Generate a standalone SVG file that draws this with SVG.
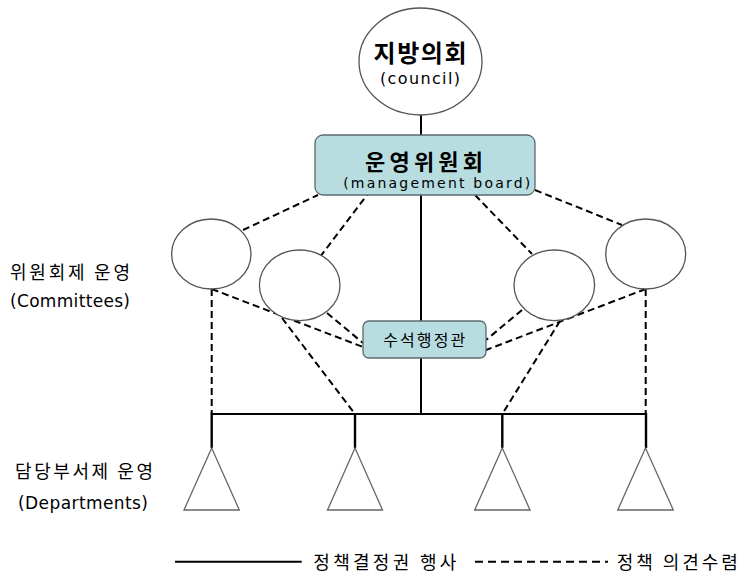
<svg xmlns="http://www.w3.org/2000/svg" width="739" height="573" viewBox="0 0 739 573">
<style>
.bg{fill:#ffffff}
.solid{stroke:#000;stroke-width:2;fill:none}
.stem{stroke:#000;stroke-width:2.4;fill:none}
.dash{stroke:#000;stroke-width:2;fill:none;stroke-dasharray:7,4}
.circ{fill:#fff;stroke:#555;stroke-width:1.3}
.box{fill:#b8dde0;stroke:#5b6b6d;stroke-width:1.3}
.tri{fill:#fff;stroke:#666;stroke-width:1.3}
.ko{font-family:"Noto Sans CJK KR","Noto Sans",sans-serif;fill:#000}
.en{font-family:"DejaVu Sans","Liberation Sans",sans-serif;fill:#000}
</style>
<rect class="bg" x="0" y="0" width="739" height="573"/>
<g id="connectors">
  <line class="solid" x1="421" y1="115" x2="421" y2="135"/>
  <line class="solid" x1="421" y1="195" x2="421" y2="414"/>
  <line class="solid" x1="211.7" y1="414" x2="646" y2="414"/>
  <line class="stem" x1="211.7" y1="413" x2="211.7" y2="448"/>
  <line class="stem" x1="355" y1="413" x2="355" y2="448"/>
  <line class="stem" x1="502.3" y1="413" x2="502.3" y2="448"/>
  <line class="stem" x1="646" y1="413" x2="646" y2="448"/>
  <line class="dash" x1="243" y1="230" x2="318" y2="195"/>
  <line class="dash" x1="320" y1="257" x2="367" y2="195"/>
  <line class="dash" x1="475" y1="195" x2="532" y2="254"/>
  <line class="dash" x1="535" y1="190" x2="622" y2="225"/>
  <line class="dash" x1="211.7" y1="289" x2="363" y2="347"/>
  <line class="dash" x1="327" y1="313" x2="363" y2="343"/>
  <line class="dash" x1="522" y1="310" x2="486" y2="340"/>
  <line class="dash" x1="645.7" y1="289" x2="486" y2="350"/>
  <line class="dash" x1="211.7" y1="289" x2="211.7" y2="414"/>
  <line class="dash" x1="282" y1="318" x2="355" y2="414"/>
  <line class="dash" x1="560" y1="321" x2="502.3" y2="414"/>
  <line class="dash" x1="645.7" y1="289" x2="645.7" y2="414"/>
</g>
<g id="council">
  <ellipse class="circ" cx="420.5" cy="61.5" rx="61.5" ry="53.5"/>
  <text class="ko" x="420" y="62.4" font-size="24" font-weight="bold" text-anchor="middle" textLength="93">지방의회</text>
  <text class="en" x="420" y="83.7" font-size="16" text-anchor="middle" textLength="80">(council)</text>
</g>
<g id="board">
  <rect class="box" x="315" y="135" width="220" height="60" rx="8"/>
  <text class="ko" x="424" y="170" font-size="22" font-weight="bold" text-anchor="middle" textLength="118">운영위원회</text>
  <text class="en" x="436.7" y="187.5" font-size="14" text-anchor="middle" textLength="187">(management board)</text>
</g>
<g id="committee1"><ellipse class="circ" cx="211.3" cy="254" rx="39.7" ry="35"/></g>
<g id="committee2"><ellipse class="circ" cx="299.7" cy="285.3" rx="40.3" ry="35.3"/></g>
<g id="committee3"><ellipse class="circ" cx="554.3" cy="285.3" rx="40.3" ry="35.3"/></g>
<g id="committee4"><ellipse class="circ" cx="645.7" cy="254" rx="40" ry="35"/></g>
<g id="chief">
  <rect class="box" x="363" y="321" width="123" height="37" rx="6"/>
  <text class="ko" x="424.2" y="346.1" font-size="16" text-anchor="middle" textLength="82">수석행정관</text>
</g>
<g id="dept1"><polygon class="tri" points="211.7,448 184,510 239.3,510"/></g>
<g id="dept2"><polygon class="tri" points="355,448 327.5,510 382.5,510"/></g>
<g id="dept3"><polygon class="tri" points="502.3,448 474.7,510 530,510"/></g>
<g id="dept4"><polygon class="tri" points="645.5,448 617.7,510 673.3,510"/></g>
<g id="labels">
  <text class="ko" x="10" y="278.5" font-size="18" textLength="120">위원회제 운영</text>
  <text class="en" x="10" y="307.1" font-size="17" textLength="120">(Committees)</text>
  <text class="ko" x="15" y="478.3" font-size="18" textLength="138">담당부서제 운영</text>
  <text class="en" x="18" y="508.9" font-size="17" textLength="130">(Departments)</text>
</g>
<g id="legend">
  <line class="solid" x1="175" y1="561.7" x2="301.7" y2="561.7"/>
  <text class="ko" x="313.3" y="568.5" font-size="18" textLength="143">정책결정권 행사</text>
  <line stroke="#000" stroke-width="2" stroke-dasharray="8,5" x1="475" y1="561.7" x2="608" y2="561.7"/>
  <text class="ko" x="616.7" y="568.5" font-size="18" textLength="121">정책 의견수렴</text>
</g>
</svg>
